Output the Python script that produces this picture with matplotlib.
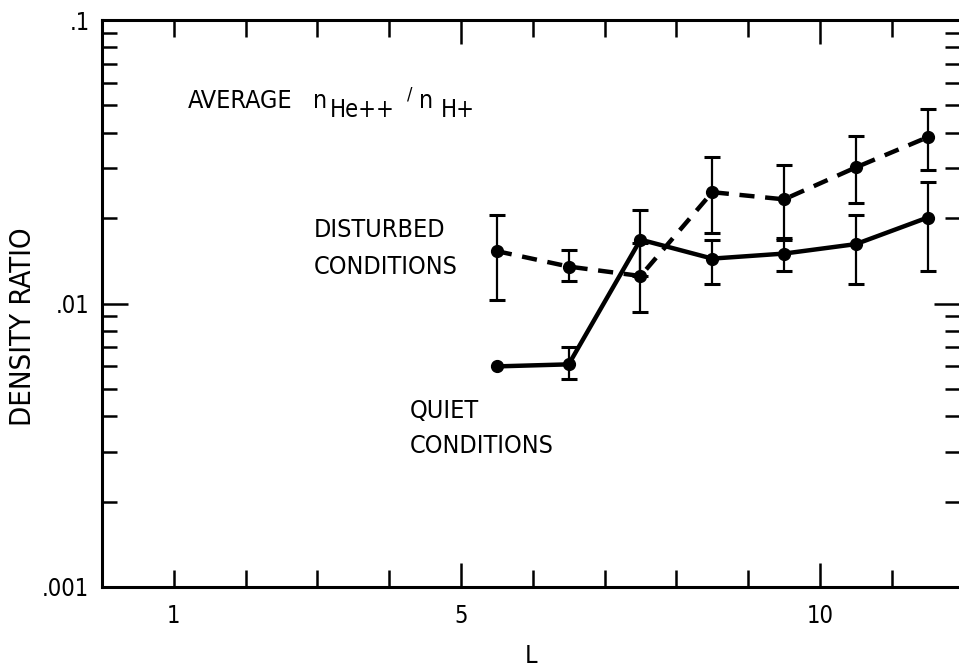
import matplotlib
matplotlib.use("Agg")
import matplotlib.pyplot as plt
import matplotlib.ticker as ticker
import numpy as np

plt.rcParams["font.family"] = ["DejaVu Sans"]
plt.rcParams["font.stretch"] = "condensed"

# L shells (bin centres)
L_vals = [5.5, 6.5, 7.5, 8.5, 9.5, 10.5, 11.5]

# disturbed conditions: mean ratio with error bar ends
dist_ratio = [0.0153, 0.0135, 0.0125, 0.0247, 0.0233, 0.0302, 0.0386]
dist_hi = [0.0205, 0.0154, 0.0164, 0.0328, 0.0307, 0.0389, 0.0485]
dist_lo = [0.0103, 0.0120, 0.0093, 0.0178, 0.0168, 0.0227, 0.0295]

# quiet conditions (first bin has no error bar)
quiet_ratio = [0.0060, 0.0061, 0.0168, 0.0144, 0.0150, 0.0162, 0.0201]
quiet_hi = [np.nan, 0.0070, 0.0213, 0.0168, 0.0170, 0.0205, 0.0268]
quiet_lo = [np.nan, 0.0054, 0.0125, 0.0117, 0.0130, 0.0117, 0.0130]

x_major = [5, 10]
x_minor = [1, 2, 3, 4, 6, 7, 8, 9, 11]
x_minor_labels = ["1", "", "", "", "", "", "", "", ""]


def main():
    fig = plt.figure(figsize=(9.59, 6.70), dpi=100)
    ax = fig.add_axes([102 / 959, 83 / 670, 858 / 959, 567 / 670])

    d = np.array(dist_ratio)
    q = np.array(quiet_ratio)
    d_err = [d - np.array(dist_lo), np.array(dist_hi) - d]
    q_err = [q - np.array(quiet_lo), np.array(quiet_hi) - q]

    ax.errorbar(L_vals, d, yerr=d_err, fmt="none", ecolor="black",
                elinewidth=1.6, capsize=6, capthick=2.2, zorder=2)
    ax.errorbar(L_vals, q, yerr=q_err, fmt="none", ecolor="black",
                elinewidth=1.6, capsize=6, capthick=2.2, zorder=2)

    ax.plot(L_vals, d, color="black", lw=3.2, ls=(0, (3.4, 2.4)),
            marker="o", ms=8.5, zorder=3)
    ax.plot(L_vals, q, color="black", lw=3.2, ls="-",
            marker="o", ms=8.5, zorder=3)

    ax.set_yscale("log")
    ax.set_ylim(0.001, 0.1)
    ax.set_xlim(0, 11.95)

    ax.set_yticks([0.001, 0.01, 0.1])
    ax.set_yticklabels([".001", ".01", ".1"])
    ax.yaxis.set_minor_locator(ticker.LogLocator(base=10, subs=np.arange(2, 10)))
    ax.yaxis.set_minor_formatter(ticker.NullFormatter())

    ax.xaxis.set_major_locator(ticker.FixedLocator(x_major))
    ax.xaxis.set_major_formatter(ticker.FixedFormatter(["5", "10"]))
    ax.xaxis.set_minor_locator(ticker.FixedLocator(x_minor))
    ax.xaxis.set_minor_formatter(ticker.FixedFormatter(x_minor_labels))

    ax.tick_params(which="both", direction="in", top=True, right=True,
                   width=1.8, labelsize=17, color="black")
    ax.tick_params(axis="y", which="major", length=19, pad=9)
    ax.tick_params(axis="y", which="minor", length=11)
    ax.tick_params(axis="x", which="major", length=17, pad=12)
    ax.tick_params(axis="x", which="minor", length=12, pad=12, labelsize=17)

    for side in ["left", "bottom", "top"]:
        ax.spines[side].set_linewidth(2.2)
    ax.spines["right"].set_visible(False)

    ax.set_xlabel("L", fontsize=18, labelpad=12)
    ax.set_ylabel("DENSITY RATIO", fontsize=21)
    ax.yaxis.set_label_coords(-0.076, 0.459)

    # title built from pieces so the subscripts stay near full size
    tr = ax.transAxes
    ax.text(0.100, 0.845, "AVERAGE", fontsize=18, transform=tr, va="baseline")
    ax.text(0.246, 0.845, "n", fontsize=18, transform=tr, va="baseline")
    ax.text(0.266, 0.829, "He++", fontsize=17, transform=tr, va="baseline")
    ax.text(0.355, 0.859, "/", fontsize=13, transform=tr, va="baseline")
    ax.text(0.370, 0.845, "n", fontsize=18, transform=tr, va="baseline")
    ax.text(0.395, 0.829, "H+", fontsize=17, transform=tr, va="baseline")

    ax.text(2.95, 0.01721, "DISTURBED", fontsize=18, va="baseline")
    ax.text(2.95, 0.01266, "CONDITIONS", fontsize=18, va="baseline")
    ax.text(4.28, 0.00395, "QUIET", fontsize=18, va="baseline")
    ax.text(4.28, 0.00297, "CONDITIONS", fontsize=18, va="baseline")

    fig.savefig("out.png", dpi=100)


if __name__ == "__main__":
    main()
